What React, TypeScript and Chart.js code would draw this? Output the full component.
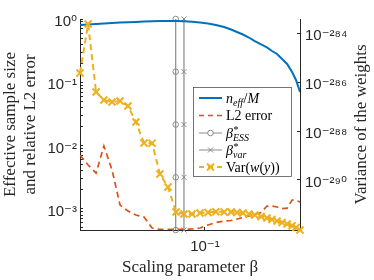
import React, { useEffect, useRef } from 'react';
import { Chart, registerables } from 'chart.js';

Chart.register(...registerables);

// ---------- data ----------
const beta = [
  0.02, 0.0222, 0.0246, 0.0272, 0.0302, 0.0335, 0.0371, 0.0411, 0.0456, 0.0506,
  0.056, 0.0621, 0.0689, 0.0763, 0.0846, 0.0938, 0.104, 0.115, 0.128, 0.14,
  0.151, 0.163, 0.176, 0.19, 0.206, 0.222, 0.237, 0.253, 0.27, 0.288,
  0.307, 0.323, 0.34,
];

const neffRatio = [
  0.804, 0.819, 0.834, 0.849, 0.865, 0.877, 0.89, 0.9, 0.91, 0.92,
  0.927, 0.93, 0.93, 0.923, 0.903, 0.88, 0.849, 0.804, 0.747, 0.682,
  0.623, 0.569, 0.51, 0.449, 0.396, 0.355, 0.312, 0.28, 0.233, 0.195,
  0.145, 0.109, 0.0703,
];

const l2Error = [
  7.1e-3, 4.94e-3, 3.69e-3, 9.86e-3, 4.12e-3, 1.15e-3, 9.26e-4, 8.01e-4, 7.45e-4, 4.99e-4,
  4.75e-4, 4.75e-4, 4.75e-4, 4.75e-4, 4.81e-4, 4.99e-4, 5.57e-4, 6.1e-4, 6.44e-4, 6.56e-4,
  6.93e-4, 7.31e-4, 7.72e-4, 8.15e-4, 8.77e-4, 1.11e-3, 1.11e-3, 1.07e-3, 1.01e-3, 1.03e-3,
  1.38e-3, 1.36e-3, 1.29e-3,
];

const varWeights = [
  2.33e-286, 2.33e-284, 3.91e-287, 1.84e-287, 1.53e-287, 1.67e-287, 1.05e-287, 2.33e-288, 3.24e-289, 3.2e-289,
  1.76e-290, 5.18e-291, 4.94e-292, 4.09e-292, 4.09e-292, 4.5e-292, 4.71e-292, 5.08e-292, 4.94e-292, 4.94e-292,
  4.71e-292, 4.5e-292, 4.09e-292, 3.72e-292, 3.24e-292, 2.81e-292, 2.44e-292, 2.12e-292, 1.84e-292, 1.6e-292,
  1.36e-292, 1.15e-292, 9.1e-293,
];

const betaESS = 0.0686;
const betaVar = 0.0763;
const markerLevels = [1, 0.147, 0.0215, 0.00316, 0.000464];

const xTicks = [0.1];
const leftDecades = [-4, -3, -2, -1, 0];
const rightTicks = [1e-290, 1e-288, 1e-286, 1e-284];

// ---------- styles ----------
const BLUE = '#0072BD';
const ORANGE = '#D95319';
const YELLOW = '#EDB120';
const GRAY = '#8a8a8a';
const AX = '#262626';
const TXT = '#262626';
const SERIF = '"Liberation Serif", "Times New Roman", serif';
const SANS = '"Liberation Sans", Arial, "DejaVu Sans", sans-serif';

const SUP: Record<string, string> = {
  '-': '\u207B', '0': '\u2070', '1': '\u00B9', '2': '\u00B2', '3': '\u00B3',
  '4': '\u2074', '5': '\u2075', '6': '\u2076', '7': '\u2077', '8': '\u2078', '9': '\u2079',
};
const sup = (n: number) => String(n).split('').map((c) => SUP[c] || c).join('');
const expLabel = (v: number) => {
  const e = Math.log10(v);
  const r = Math.round(e);
  return Math.abs(e - r) < 1e-6 ? '10' + sup(r) : '';
};

type Seg = { t?: string; i?: boolean; sup?: string; sub?: string; subI?: boolean };

const legendRows: { kind: string; segs: Seg[] }[] = [
  { kind: 'neff', segs: [{ t: 'n', i: true }, { sub: 'eff', subI: true }, { t: '/' }, { t: 'M', i: true }] },
  { kind: 'l2', segs: [{ t: 'L2 error' }] },
  { kind: 'ess', segs: [{ t: '\u03B2', i: true }, { sup: '*', sub: 'ESS', subI: true }] },
  { kind: 'var', segs: [{ t: '\u03B2', i: true }, { sup: '*', sub: 'var', subI: true }] },
  { kind: 'w', segs: [{ t: 'Var(' }, { t: 'w', i: true }, { t: '(' }, { t: 'y', i: true }, { t: '))' }] },
];

const f = (italic: boolean | undefined, size: number) => `${italic ? 'italic ' : ''}${size}px ${SERIF}`;

function drawRich(ctx: CanvasRenderingContext2D, x: number, base: number, segs: Seg[]) {
  let cx = x;
  for (const s of segs) {
    if (s.sup !== undefined || s.sub !== undefined) {
      let w = 0;
      if (s.sup) {
        ctx.font = f(false, 10);
        ctx.fillText(s.sup, cx + 0.5, base - 5);
        w = Math.max(w, ctx.measureText(s.sup).width + 0.5);
      }
      if (s.sub) {
        ctx.font = f(s.subI, 10);
        ctx.fillText(s.sub, cx, base + 3.5);
        w = Math.max(w, ctx.measureText(s.sub).width);
      }
      cx += w + 0.5;
    } else if (s.t) {
      ctx.font = f(s.i, 14);
      ctx.fillText(s.t, cx, base);
      cx += ctx.measureText(s.t).width;
    }
  }
}

function drawCross(ctx: CanvasRenderingContext2D, x: number, y: number, r: number) {
  ctx.beginPath();
  ctx.moveTo(x - r, y - r);
  ctx.lineTo(x + r, y + r);
  ctx.moveTo(x - r, y + r);
  ctx.lineTo(x + r, y - r);
  ctx.stroke();
}

const overlayPlugin = {
  id: 'overlay',
  afterDraw(chart: any) {
    const ctx: CanvasRenderingContext2D = chart.ctx;
    const ca = chart.chartArea;

    // right axis title (reads bottom to top)
    ctx.save();
    ctx.translate(ca.right + 62, (ca.top + ca.bottom) / 2);
    ctx.rotate(-Math.PI / 2);
    ctx.fillStyle = TXT;
    ctx.font = `17px ${SERIF}`;
    ctx.textAlign = 'center';
    ctx.textBaseline = 'middle';
    ctx.fillText('Variance of the weights', 0, 0);
    ctx.restore();

    // legend box
    const bx = ca.left + 113.5;
    const by = ca.top + 68.5;
    const bw = 98;
    const bh = 89;
    ctx.save();
    ctx.fillStyle = '#ffffff';
    ctx.fillRect(bx, by, bw, bh);
    ctx.strokeStyle = '#3a3a3a';
    ctx.lineWidth = 0.7;
    ctx.strokeRect(bx, by, bw, bh);

    const rowsY = [98, 115.5, 133, 150, 167].map((v) => v - 19 + ca.top);
    const x0 = bx + 5.5;
    const x1 = bx + 28.5;
    const xm = (x0 + x1) / 2;
    const tx = bx + 32.5;
    legendRows.forEach((row, k) => {
      const y = rowsY[k];
      ctx.setLineDash([]);
      if (row.kind === 'neff') {
        ctx.strokeStyle = BLUE;
        ctx.lineWidth = 2;
        ctx.beginPath(); ctx.moveTo(x0, y); ctx.lineTo(x1, y); ctx.stroke();
      } else if (row.kind === 'l2') {
        ctx.strokeStyle = ORANGE;
        ctx.lineWidth = 1.7;
        ctx.setLineDash([5, 4]);
        ctx.beginPath(); ctx.moveTo(x0, y); ctx.lineTo(x1, y); ctx.stroke();
      } else if (row.kind === 'ess' || row.kind === 'var') {
        ctx.strokeStyle = GRAY;
        ctx.lineWidth = 1;
        ctx.beginPath(); ctx.moveTo(x0, y); ctx.lineTo(x1, y); ctx.stroke();
        if (row.kind === 'ess') {
          ctx.fillStyle = '#fff';
          ctx.beginPath(); ctx.arc(xm, y, 2.8, 0, Math.PI * 2); ctx.fill(); ctx.stroke();
        } else {
          drawCross(ctx, xm, y, 2.5);
        }
      } else {
        ctx.strokeStyle = YELLOW;
        ctx.lineWidth = 2;
        ctx.setLineDash([5, 4]);
        ctx.beginPath(); ctx.moveTo(x0, y); ctx.lineTo(x1, y); ctx.stroke();
        ctx.setLineDash([]);
        drawCross(ctx, xm, y, 3.5);
      }
      ctx.setLineDash([]);
      ctx.fillStyle = '#000';
      ctx.textAlign = 'left';
      ctx.textBaseline = 'alphabetic';
      drawRich(ctx, tx, y + 4.5, row.segs);
    });
    ctx.restore();
  },
};

export default function App() {
  const ref = useRef<HTMLCanvasElement>(null);

  useEffect(() => {
    const canvas = ref.current;
    if (!canvas) return;
    const pts = (ys: number[]) => beta.map((b, i) => ({ x: b, y: ys[i] }));
    const vline = (b: number) => markerLevels.map((y) => ({ x: b, y }));

    const leftTickValues: number[] = [];
    leftDecades.forEach((d) => {
      for (let m = 1; m <= 9; m++) {
        const v = m * Math.pow(10, d);
        if (v >= 4.6416e-4 * 0.999 && v <= 1.0001) leftTickValues.push(v);
      }
    });

    const tickFont = { family: SANS, size: 15 };
    const gridOpts = {
      display: true,
      drawOnChartArea: false,
      drawTicks: true,
      tickLength: -3,
      color: AX,
      tickColor: AX,
      tickWidth: 1,
    };

    const chart = new Chart(canvas, {
      type: 'line',
      data: {
        datasets: [
          {
            label: 'Var(w(y))',
            data: pts(varWeights),
            yAxisID: 'yR',
            borderColor: YELLOW,
            backgroundColor: YELLOW,
            borderWidth: 2,
            borderDash: [6, 4],
            pointStyle: 'crossRot',
            pointRadius: 5,
            pointBorderWidth: 2,
            pointBorderColor: YELLOW,
            pointBackgroundColor: YELLOW,
            clip: false,
            order: 0,
          },
          {
            label: 'n_eff/M',
            data: pts(neffRatio),
            yAxisID: 'y',
            borderColor: BLUE,
            backgroundColor: BLUE,
            borderWidth: 2,
            pointRadius: 0,
            order: 1,
          },
          {
            label: 'L2 error',
            data: pts(l2Error),
            yAxisID: 'y',
            borderColor: ORANGE,
            backgroundColor: ORANGE,
            borderWidth: 1.7,
            borderDash: [6, 4],
            pointRadius: 0,
            order: 2,
          },
          {
            label: 'beta*_ESS',
            data: vline(betaESS),
            yAxisID: 'y',
            borderColor: GRAY,
            borderWidth: 1.2,
            pointStyle: 'circle',
            pointRadius: 2.8,
            pointBorderWidth: 1,
            pointBorderColor: GRAY,
            pointBackgroundColor: 'rgba(255,255,255,0)',
            clip: false,
            order: 3,
          },
          {
            label: 'beta*_var',
            data: vline(betaVar),
            yAxisID: 'y',
            borderColor: GRAY,
            borderWidth: 1.2,
            pointStyle: 'crossRot',
            pointRadius: 3.6,
            pointBorderWidth: 1,
            pointBorderColor: GRAY,
            clip: false,
            order: 4,
          },
        ],
      },
      options: {
        animation: false,
        responsive: false,
        devicePixelRatio: 1,
        layout: { padding: { top: 19, left: 0, right: 0, bottom: 0 } },
        elements: { line: { tension: 0 } },
        plugins: { legend: { display: false }, tooltip: { enabled: false } },
        scales: {
          x: {
            type: 'logarithmic',
            position: 'bottom',
            min: 0.02,
            max: 0.34,
            afterBuildTicks: (s: any) => { s.ticks = xTicks.map((v) => ({ value: v })); },
            afterFit: (s: any) => { s.height = 50; },
            ticks: {
              callback: (v: any) => expLabel(Number(v)),
              font: tickFont,
              color: TXT,
              padding: 11,
              maxRotation: 0,
              autoSkip: false,
            },
            grid: gridOpts,
            border: { display: true, color: AX, width: 1 },
            title: {
              display: true,
              text: 'Scaling parameter \u03B2',
              font: { family: SERIF, size: 17, lineHeight: 1.12 },
              color: TXT,
              padding: { top: 0, bottom: 2.5 },
            },
          },
          y: {
            type: 'logarithmic',
            position: 'left',
            min: 4.6416e-4,
            max: 1,
            afterBuildTicks: (s: any) => { s.ticks = leftTickValues.map((v) => ({ value: v })); },
            afterFit: (s: any) => { s.width = 80; },
            ticks: {
              callback: (v: any) => expLabel(Number(v)),
              font: tickFont,
              color: TXT,
              padding: 6,
              labelOffset: 3,
              autoSkip: false,
            },
            grid: gridOpts,
            border: { display: true, color: AX, width: 1 },
            title: {
              display: true,
              text: ['Effective sample size', 'and relative L2 error'],
              font: { family: SERIF, size: 17, lineHeight: 1.12 },
              color: TXT,
              padding: { top: 1.5, bottom: 0 },
            },
          },
          yR: {
            type: 'logarithmic',
            position: 'right',
            min: 9.1e-293,
            max: 3.73e-284,
            afterBuildTicks: (s: any) => { s.ticks = rightTicks.map((v) => ({ value: v })); },
            afterFit: (s: any) => { s.width = 74; },
            ticks: {
              callback: (v: any) => expLabel(Number(v)),
              font: tickFont,
              color: TXT,
              padding: 8,
              labelOffset: 3,
              autoSkip: false,
            },
            grid: gridOpts,
            border: { display: true, color: AX, width: 1 },
          },
        },
      } as any,
      plugins: [overlayPlugin],
    } as any);

    return () => chart.destroy();
  }, []);

  return (
    <div style={{ position: 'fixed', left: 0, top: 0, width: 374, height: 280, background: '#fff' }}>
      <canvas ref={ref} width={374} height={280} style={{ display: 'block', width: 374, height: 280 }} />
    </div>
  );
}
